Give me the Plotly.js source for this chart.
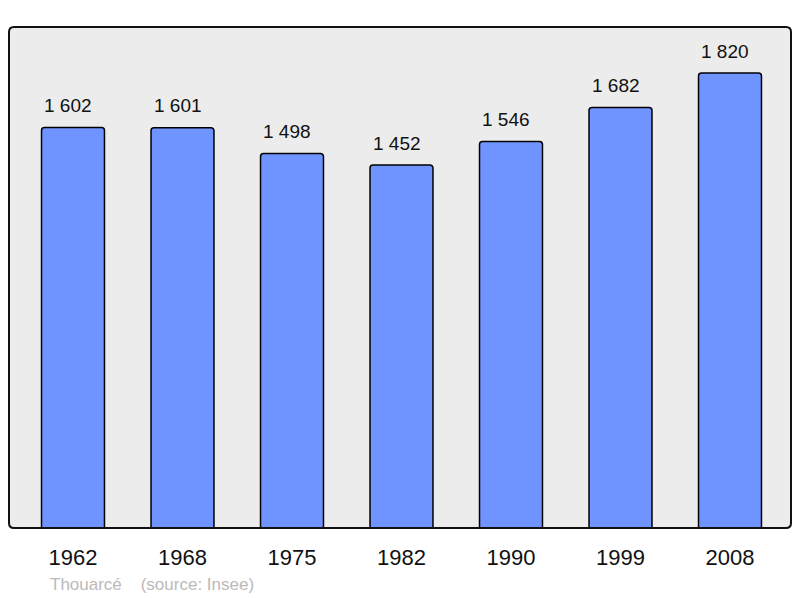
<!DOCTYPE html>
<html>
<head>
<meta charset="utf-8">
<script src="https://cdn.plot.ly/plotly-3.0.1.min.js"></script>
<style>html,body{margin:0;padding:0;background:#fff;}#chart{width:800px;height:598px;}</style>
</head>
<body>
<div id="chart"></div>
<script>
const years = ["1962", "1968", "1975", "1982", "1990", "1999", "2008"];
const population = [1602, 1601, 1498, 1452, 1546, 1682, 1820];
const valueLabels = ["1 602", "1 601", "1 498", "1 452", "1 546", "1 682", "1 820"];
const sourceText = "Thouarcé    (source: Insee)";

const W = 800, H = 598;
const L = 9, R = 9, T = 27, B = 70;
const pw = W - L - R, ph = H - T - B;
const rad = 5;
const rx = rad / pw, ry = rad / ph;
const border = `M ${rx} 0 L ${1 - rx} 0 Q 1 0 1 ${ry} L 1 ${1 - ry} Q 1 1 ${1 - rx} 1 L ${rx} 1 Q 0 1 0 ${1 - ry} L 0 ${ry} Q 0 0 ${rx} 0 Z`;

const xs = years.map((_, i) => i);

const trace = {
  type: 'bar',
  x: xs,
  y: population,
  width: 0.575,
  marker: { color: '#7094ff', line: { color: '#000', width: 1.5 }, cornerradius: 3 },
  hoverinfo: 'skip'
};

const annotations = xs.map((x, i) => ({
  x: x, y: population[i], xref: 'x', yref: 'y',
  text: valueLabels[i], showarrow: false,
  yshift: 22, xshift: -5, yanchor: 'middle',
  font: { family: 'Liberation Sans, Arial, sans-serif', size: 19, color: '#111' }
}));
annotations.push({
  xref: 'paper', yref: 'paper', x: (48 - L) / pw, y: -(584 - (H - B)) / ph,
  xanchor: 'left', yanchor: 'middle', showarrow: false,
  text: sourceText,
  font: { family: 'Liberation Sans, Arial, sans-serif', size: 17, color: '#bababa' }
});

const layout = {
  width: W, height: H,
  margin: { l: L, r: R, t: T, b: B, pad: 0 },
  paper_bgcolor: '#fff',
  plot_bgcolor: '#ececec',
  showlegend: false,
  xaxis: {
    range: [-64 / 109.5, 6 + 61 / 109.5],
    tickmode: 'array', tickvals: xs, ticktext: years,
    showgrid: false, zeroline: false, showline: false, ticks: '',
    tickfont: { family: 'Liberation Sans, Arial, sans-serif', size: 22, color: '#111' },
    ticklabelstandoff: 14,
    fixedrange: true
  },
  yaxis: {
    range: [0, 2004],
    showgrid: false, zeroline: false, showline: false, showticklabels: false, ticks: '',
    fixedrange: true
  },
  shapes: [{
    type: 'path', xref: 'paper', yref: 'paper', path: border,
    line: { color: '#111', width: 2 }, fillcolor: 'rgba(0,0,0,0)', layer: 'above'
  }],
  annotations: annotations
};

Plotly.newPlot('chart', [trace], layout, { displayModeBar: false, staticPlot: true });
</script>
</body>
</html>
